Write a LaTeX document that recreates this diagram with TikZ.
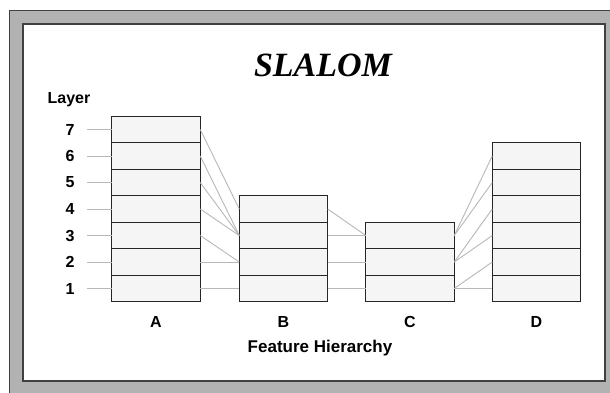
\documentclass[tikz,border=0pt]{standalone}
\usepackage{fontspec}
\setmainfont{Liberation Sans}
\newfontfamily\titlefont{Liberation Serif}
\usetikzlibrary{calc}
\tikzset{%
  cell/.style={draw=black!85,fill=black!4,line width=1pt,minimum width=88.5pt,minimum height=26.5pt,inner sep=0,outer sep=0},
  link/.style={draw=black!28,line width=0.9pt},
  lbl/.style={font=\fontsize{16}{16}\selectfont\bfseries,inner sep=0}
}

\begin{document}
\begin{tikzpicture}[x=1pt,y=-1pt]
    \useasboundingbox (0,0) rectangle (610,392);
    \path[fill=black!30,draw=black!75,line width=1pt] (9.5,10.5) rectangle (620,400);
    \path[fill=white,draw=black!75,line width=1.2pt] (23,24) rectangle (605,381);
    \path
      (323,65) node (title)[inner sep=0,font=\titlefont\fontsize{34}{34}\selectfont\bfseries\itshape]{SLALOM}
      (69,100) node (layer)[lbl]{Layer}
      (320,348) node (axis)[lbl,font=\fontsize{17}{17}\selectfont\bfseries]{Feature Hierarchy};
    % columns of layers
    \foreach \k in {1,...,7} \path (156,{288.5-26.5*(\k-1)}) node (a\k)[cell]{};
    \foreach \k in {1,...,4} \path (283.5,{288.5-26.5*(\k-1)}) node (b\k)[cell]{};
    \foreach \k in {1,...,3} \path (410,{288.5-26.5*(\k-1)}) node (c\k)[cell]{};
    \foreach \k in {1,...,6} \path (536.5,{288.5-26.5*(\k-1)}) node (d\k)[cell]{};
    \path
      (156,322) node (colA)[lbl]{A}
      (283.5,322) node (colB)[lbl]{B}
      (410,322) node (colC)[lbl]{C}
      (536.5,322) node (colD)[lbl]{D};
    % layer numbers
    \foreach \k in {1,...,7} {
      \path (70,{288.5-26.5*(\k-1)}) node (n\k)[lbl]{\k};
      \coordinate (t\k) at (87,{288.5-26.5*(\k-1)});
      \draw[link] (t\k) -- (a\k.west);
    }
    \foreach \u/\v in {a7/b4,a6/b3,a5/b3,a4/b3,a3/b2,a2/b2,a1/b1,
                       b4/c3,b3/c3,b2/c2,b1/c1,
                       c3/d6,c3/d5,c2/d4,c2/d3,c1/d2,c1/d1}
      \draw[link] (\u.east) -- (\v.west);
\end{tikzpicture}
\end{document}
